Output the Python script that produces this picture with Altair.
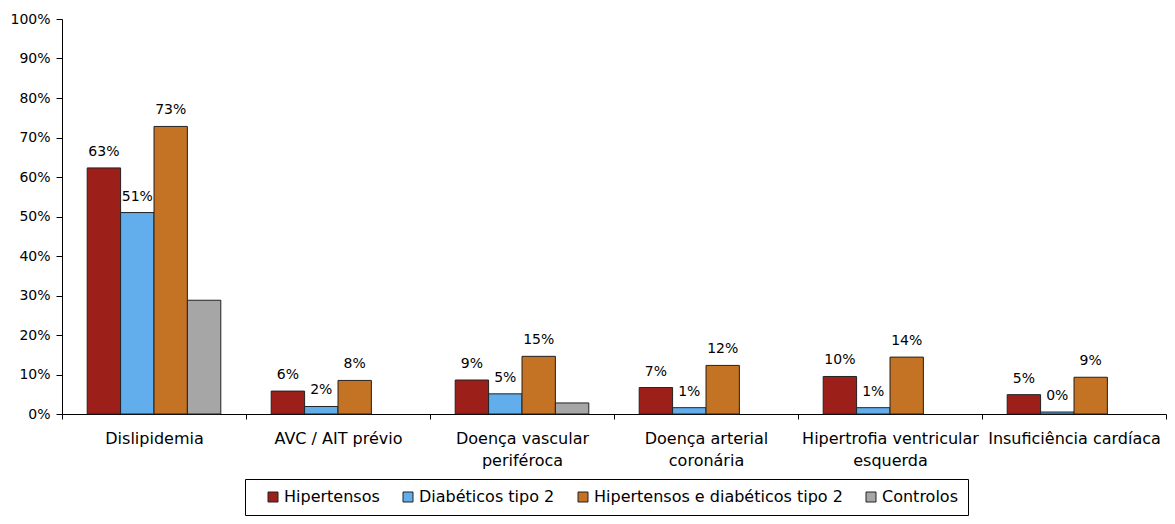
import altair as alt
import pandas as pd

categories = [
    "Dislipidemia",
    "AVC / AIT prévio",
    "Doença vascular|periféroca",
    "Doença arterial|coronária",
    "Hipertrofia ventricular|esquerda",
    "Insuficiência cardíaca",
]
series = ["Hipertensos", "Diabéticos tipo 2", "Hipertensos e diabéticos tipo 2", "Controlos"]

hipertensos = [62.3, 5.8, 8.6, 6.7, 9.5, 4.9]
diabeticos = [51.0, 1.9, 5.1, 1.6, 1.6, 0.5]
hip_diab = [72.8, 8.5, 14.6, 12.3, 14.4, 9.3]
controlos = [28.8, None, 2.8, None, None, None]

hipertensos_labels = ["63%", "6%", "9%", "7%", "10%", "5%"]
diabeticos_labels = ["51%", "2%", "5%", "1%", "1%", "0%"]
hip_diab_labels = ["73%", "8%", "15%", "12%", "14%", "9%"]
controlos_labels = ["", "", "", "", "", ""]

y_ticks = [0, 10, 20, 30, 40, 50, 60, 70, 80, 90, 100]
colors = ["#9C1F1A", "#62ADEC", "#C37323", "#A6A6A6"]

rows = []
for s, vals, labs in zip(
    series,
    [hipertensos, diabeticos, hip_diab, controlos],
    [hipertensos_labels, diabeticos_labels, hip_diab_labels, controlos_labels],
):
    for c, v, l in zip(categories, vals, labs):
        rows.append({"categoria": c, "serie": s, "valor": v, "rotulo": l})
df = pd.DataFrame(rows)

FONT = "DejaVu Sans"
W, H = 1104, 395

x = alt.X(
    "categoria:N",
    sort=categories,
    scale=alt.Scale(paddingInner=0, paddingOuter=0),
    axis=alt.Axis(
        title=None,
        labelAngle=0,
        tickBand="extent",
        labelExpr="split(datum.label, '|')",
        labelFontSize=16,
        labelLineHeight=22,
        labelPadding=19,
        labelFont=FONT,
        labelColor="black",
        tickSize=5,
        tickColor="black",
        domainColor="black",
        labelBaseline="middle",
    ),
)
xo = alt.XOffset("serie:N", sort=series, scale=alt.Scale(paddingInner=0, paddingOuter=0.754))
y = alt.Y(
    "valor:Q",
    scale=alt.Scale(domain=[0, 100], nice=False),
    axis=alt.Axis(
        title=None,
        values=y_ticks,
        labelExpr="datum.value + '%'",
        grid=False,
        tickSize=6,
        labelPadding=6,
        labelFontSize=14,
        labelFont=FONT,
        labelColor="black",
        tickColor="black",
        domainColor="black",
    ),
)

bars = alt.Chart(df).mark_bar(stroke="#222222", strokeWidth=1, opacity=1).encode(
    x=x,
    xOffset=xo,
    y=y,
    color=alt.Color(
        "serie:N",
        sort=series,
        scale=alt.Scale(domain=series, range=colors),
        legend=alt.Legend(
            title=None,
            orient="none",
            legendX=183,
            legendY=460,
            direction="horizontal",
            columns=4,
            strokeColor="black",
            padding=10,
            columnPadding=10,
            symbolType="square",
            symbolSize=100,
            symbolOffset=10,
            symbolStrokeColor="#222222",
            symbolStrokeWidth=1,
            symbolOpacity=1,
            labelFontSize=16,
            labelFont=FONT,
            labelColor="black",
            labelOffset=3,
            labelLimit=0,
        ),
    ),
)

labels = alt.Chart(df).mark_text(
    dy=-12, fontSize=14, font=FONT, color="black", baseline="alphabetic"
).encode(x=x, xOffset=xo, y=y, text="rotulo:N")

chart = (
    alt.layer(bars, labels)
    .properties(
        width=W,
        height=H,
        padding={"left": 54, "top": 11, "right": 1, "bottom": 102},
        autosize=alt.AutoSizeParams(type="none"),
    )
    .configure_view(stroke=None)
)

chart.save("out.html", embed_options={"renderer": "svg", "actions": False})
